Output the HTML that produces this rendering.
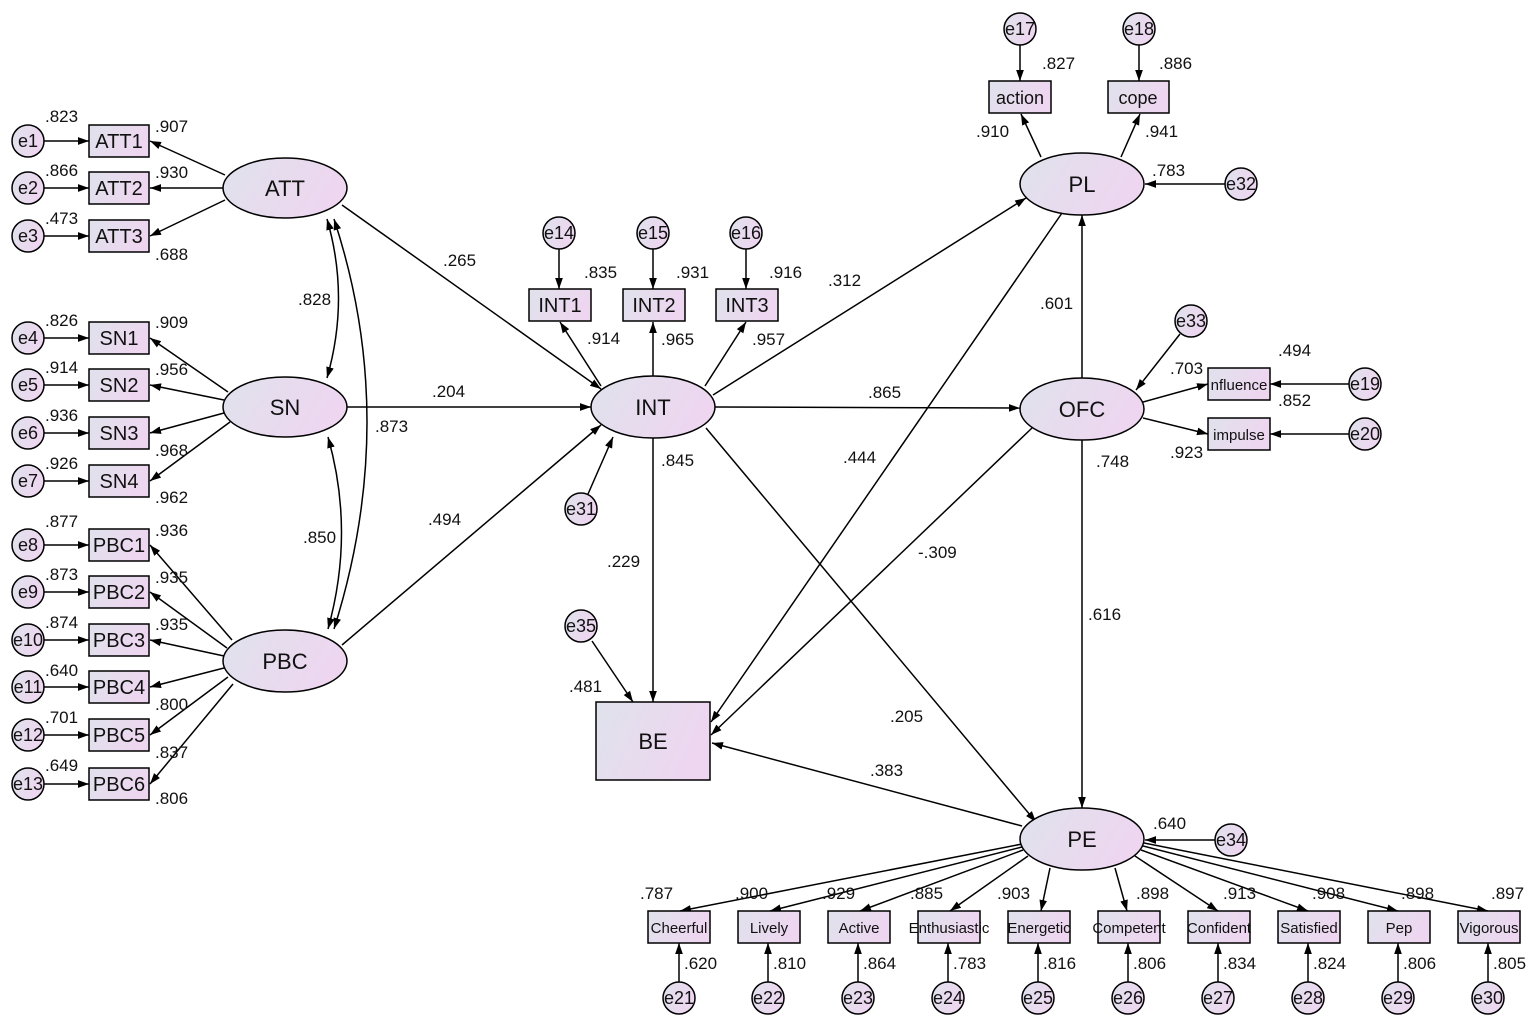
<!DOCTYPE html>
<html><head><meta charset="utf-8"><style>
html,body{margin:0;padding:0;background:#fff;}
svg{display:block;font-family:"Liberation Sans",Arial,sans-serif;}
</style></head><body>
<svg width="1535" height="1025" viewBox="0 0 1535 1025" xmlns="http://www.w3.org/2000/svg">
<defs>
<linearGradient id="g" x1="0" y1="0" x2="1" y2="0.3"><stop offset="0" stop-color="#dfe2ec"/><stop offset="1" stop-color="#eed6f0"/></linearGradient>
<marker id="a" viewBox="0 0 10 10" refX="10" refY="5" markerWidth="11" markerHeight="11" markerUnits="userSpaceOnUse" orient="auto-start-reverse"><path d="M0,1.5 L10,5 L0,8.5 z" fill="#000"/></marker>
</defs>
<g stroke="#000" stroke-width="1.5" fill="none" marker-end="url(#a)">
<!-- ATT indicators -->
<line x1="225" y1="175" x2="150" y2="141"/><line x1="223" y1="188" x2="150" y2="188"/><line x1="225" y1="200" x2="150" y2="236"/>
<line x1="44" y1="141" x2="89" y2="141"/><line x1="44" y1="188" x2="89" y2="188"/><line x1="44" y1="236" x2="89" y2="236"/>
<!-- SN -->
<line x1="228" y1="392" x2="150" y2="338"/><line x1="224" y1="400" x2="150" y2="385"/><line x1="224" y1="413" x2="150" y2="433"/><line x1="230" y1="422" x2="150" y2="481"/>
<line x1="44" y1="338" x2="89" y2="338"/><line x1="44" y1="385" x2="89" y2="385"/><line x1="44" y1="433" x2="89" y2="433"/><line x1="44" y1="481" x2="89" y2="481"/>
<!-- PBC -->
<line x1="232" y1="640" x2="150" y2="545"/><line x1="227" y1="648" x2="150" y2="592"/><line x1="224" y1="656" x2="150" y2="640"/><line x1="224" y1="668" x2="150" y2="687"/><line x1="228" y1="677" x2="150" y2="735"/><line x1="233" y1="684" x2="150" y2="784"/>
<line x1="44" y1="545" x2="89" y2="545"/><line x1="44" y1="592" x2="89" y2="592"/><line x1="44" y1="640" x2="89" y2="640"/><line x1="44" y1="687" x2="89" y2="687"/><line x1="44" y1="735" x2="89" y2="735"/><line x1="44" y1="784" x2="89" y2="784"/>
<!-- covariances -->
<path d="M327,219 Q350,298 327,378" marker-start="url(#a)"/>
<path d="M334,219 Q400,420 334,629" marker-start="url(#a)"/>
<path d="M328,437 Q355,532 328,629" marker-start="url(#a)"/>
<!-- to INT -->
<line x1="342" y1="205" x2="601" y2="389"/><line x1="347" y1="407" x2="591" y2="407"/><line x1="342" y1="645" x2="601" y2="425"/>
<line x1="601" y1="386" x2="560" y2="322"/><line x1="653" y1="377" x2="653" y2="322"/><line x1="705" y1="386" x2="746" y2="322"/>
<line x1="559" y1="249" x2="559" y2="289"/><line x1="653" y1="249" x2="653" y2="289"/><line x1="746" y1="249" x2="746" y2="289"/>
<line x1="588" y1="494" x2="613" y2="437"/>
<!-- from INT -->
<line x1="713" y1="395" x2="1026" y2="198"/><line x1="715" y1="407" x2="1020" y2="408"/><line x1="653" y1="438" x2="653" y2="702"/><line x1="706" y1="428" x2="1036" y2="822"/>
<!-- to BE -->
<line x1="1062" y1="213" x2="711" y2="722"/><line x1="1032" y1="428" x2="711" y2="735"/><line x1="1022" y1="826" x2="712" y2="743"/>
<line x1="592" y1="641" x2="633" y2="702"/>
<!-- OFC -->
<line x1="1082" y1="378" x2="1082" y2="215"/><line x1="1082" y1="440" x2="1082" y2="808"/>
<line x1="1180" y1="334" x2="1136" y2="390"/>
<line x1="1143" y1="402" x2="1208" y2="384"/><line x1="1143" y1="418" x2="1208" y2="434"/>
<line x1="1349" y1="384" x2="1270" y2="384"/><line x1="1349" y1="434" x2="1270" y2="434"/>
<!-- PL -->
<line x1="1041" y1="157" x2="1021" y2="114"/><line x1="1121" y1="157" x2="1140" y2="114"/>
<line x1="1020" y1="45" x2="1020" y2="81"/><line x1="1139" y1="45" x2="1139" y2="81"/>
<line x1="1225" y1="184" x2="1145" y2="184"/>
<!-- PE -->
<line x1="1215" y1="840" x2="1145" y2="840"/>
<line x1="1022" y1="844" x2="680" y2="911"/><line x1="1022" y1="847" x2="770" y2="911"/><line x1="1023" y1="850" x2="860" y2="911"/><line x1="1028" y1="856" x2="950" y2="911"/><line x1="1050" y1="868" x2="1041" y2="911"/>
<line x1="1115" y1="868" x2="1127" y2="911"/><line x1="1135" y1="856" x2="1218" y2="911"/><line x1="1141" y1="850" x2="1308" y2="911"/><line x1="1143" y1="846" x2="1398" y2="911"/><line x1="1144" y1="843" x2="1488" y2="911"/>
<line x1="679" y1="983" x2="679" y2="943"/><line x1="768" y1="983" x2="768" y2="943"/><line x1="858" y1="983" x2="858" y2="943"/><line x1="948" y1="983" x2="948" y2="943"/><line x1="1038" y1="983" x2="1038" y2="943"/><line x1="1128" y1="983" x2="1128" y2="943"/><line x1="1218" y1="983" x2="1218" y2="943"/><line x1="1308" y1="983" x2="1308" y2="943"/><line x1="1398" y1="983" x2="1398" y2="943"/><line x1="1488" y1="983" x2="1488" y2="943"/>
</g>
<!-- shapes -->
<g fill="url(#g)" stroke="#000" stroke-width="1.5">
<ellipse cx="285" cy="188" rx="62" ry="30"/><ellipse cx="285" cy="407" rx="62" ry="30"/><ellipse cx="285" cy="661" rx="62" ry="31"/>
<ellipse cx="653" cy="407" rx="62" ry="31"/><ellipse cx="1082" cy="184" rx="62" ry="31"/><ellipse cx="1082" cy="409" rx="62" ry="31"/><ellipse cx="1082" cy="839" rx="62" ry="31"/>
<rect x="596" y="702" width="114" height="78"/>
<rect x="89" y="125" width="60" height="32"/><rect x="89" y="172" width="60" height="32"/><rect x="89" y="220" width="60" height="32"/>
<rect x="89" y="322" width="60" height="32"/><rect x="89" y="369" width="60" height="32"/><rect x="89" y="417" width="60" height="32"/><rect x="89" y="465" width="60" height="32"/>
<rect x="89" y="529" width="60" height="32"/><rect x="89" y="576" width="60" height="32"/><rect x="89" y="624" width="60" height="32"/><rect x="89" y="671" width="60" height="32"/><rect x="89" y="719" width="60" height="32"/><rect x="89" y="768" width="60" height="32"/>
<rect x="529" y="289" width="62" height="32"/><rect x="623" y="289" width="62" height="32"/><rect x="716" y="289" width="62" height="32"/>
<rect x="989" y="81" width="62" height="32"/><rect x="1108" y="81" width="61" height="32"/>
<rect x="1208" y="368" width="62" height="32"/><rect x="1208" y="418" width="62" height="32"/>
<rect x="648" y="911" width="62" height="32"/><rect x="738" y="911" width="62" height="32"/><rect x="828" y="911" width="62" height="32"/><rect x="918" y="911" width="62" height="32"/><rect x="1008" y="911" width="62" height="32"/><rect x="1098" y="911" width="62" height="32"/><rect x="1188" y="911" width="62" height="32"/><rect x="1278" y="911" width="62" height="32"/><rect x="1368" y="911" width="62" height="32"/><rect x="1458" y="911" width="62" height="32"/>
<g>
<circle cx="28" cy="141" r="16"/><circle cx="28" cy="188" r="16"/><circle cx="28" cy="236" r="16"/>
<circle cx="28" cy="338" r="16"/><circle cx="28" cy="385" r="16"/><circle cx="28" cy="433" r="16"/><circle cx="28" cy="481" r="16"/>
<circle cx="28" cy="545" r="16"/><circle cx="28" cy="592" r="16"/><circle cx="28" cy="640" r="16"/><circle cx="28" cy="687" r="16"/><circle cx="28" cy="735" r="16"/><circle cx="28" cy="784" r="16"/>
<circle cx="559" cy="233" r="16"/><circle cx="653" cy="233" r="16"/><circle cx="746" cy="233" r="16"/>
<circle cx="581" cy="509" r="16"/><circle cx="581" cy="626" r="16"/>
<circle cx="1020" cy="29" r="16"/><circle cx="1139" cy="29" r="16"/><circle cx="1241" cy="184" r="16"/>
<circle cx="1191" cy="321" r="16"/><circle cx="1365" cy="384" r="16"/><circle cx="1365" cy="434" r="16"/><circle cx="1231" cy="840" r="16"/>
<circle cx="679" cy="998" r="16"/><circle cx="768" cy="998" r="16"/><circle cx="858" cy="998" r="16"/><circle cx="948" cy="998" r="16"/><circle cx="1038" cy="998" r="16"/><circle cx="1128" cy="998" r="16"/><circle cx="1218" cy="998" r="16"/><circle cx="1308" cy="998" r="16"/><circle cx="1398" cy="998" r="16"/><circle cx="1488" cy="998" r="16"/>
</g></g>
<!-- labels -->
<g fill="#111" text-anchor="middle" font-size="22">
<text x="285" y="196">ATT</text><text x="285" y="415">SN</text><text x="285" y="669">PBC</text><text x="653" y="415">INT</text>
<text x="1082" y="192">PL</text><text x="1082" y="417">OFC</text><text x="1082" y="847">PE</text><text x="653" y="749">BE</text>
</g>
<g fill="#111" text-anchor="middle" font-size="20">
<text x="119" y="148">ATT1</text><text x="119" y="195">ATT2</text><text x="119" y="243">ATT3</text>
<text x="119" y="345">SN1</text><text x="119" y="392">SN2</text><text x="119" y="440">SN3</text><text x="119" y="488">SN4</text>
<text x="119" y="552">PBC1</text><text x="119" y="599">PBC2</text><text x="119" y="647">PBC3</text><text x="119" y="694">PBC4</text><text x="119" y="742">PBC5</text><text x="119" y="791">PBC6</text>
<text x="560" y="312">INT1</text><text x="654" y="312">INT2</text><text x="747" y="312">INT3</text>
</g>
<g fill="#111" text-anchor="middle" font-size="18">
<text x="1020" y="104">action</text><text x="1138" y="104">cope</text>
</g>
<g fill="#111" text-anchor="middle" font-size="15">
<text x="1239" y="390">nfluence</text><text x="1239" y="440">impulse</text>
<text x="679" y="933">Cheerful</text><text x="769" y="933">Lively</text><text x="859" y="933">Active</text><text x="949" y="933">Enthusiastic</text><text x="1039" y="933">Energetic</text><text x="1129" y="933">Competent</text><text x="1219" y="933">Confident</text><text x="1309" y="933">Satisfied</text><text x="1399" y="933">Pep</text><text x="1489" y="933">Vigorous</text>
</g>
<g fill="#111" text-anchor="middle" font-size="18">
<text x="28" y="147">e1</text><text x="28" y="194">e2</text><text x="28" y="242">e3</text>
<text x="28" y="344">e4</text><text x="28" y="391">e5</text><text x="28" y="439">e6</text><text x="28" y="487">e7</text>
<text x="28" y="551">e8</text><text x="28" y="598">e9</text><text x="28" y="646">e10</text><text x="28" y="693">e11</text><text x="28" y="741">e12</text><text x="28" y="790">e13</text>
<text x="559" y="239">e14</text><text x="653" y="239">e15</text><text x="746" y="239">e16</text>
<text x="581" y="515">e31</text><text x="581" y="632">e35</text>
<text x="1020" y="35">e17</text><text x="1139" y="35">e18</text><text x="1241" y="190">e32</text>
<text x="1191" y="327">e33</text><text x="1365" y="390">e19</text><text x="1365" y="440">e20</text><text x="1231" y="846">e34</text>
<text x="679" y="1004">e21</text><text x="768" y="1004">e22</text><text x="858" y="1004">e23</text><text x="948" y="1004">e24</text><text x="1038" y="1004">e25</text><text x="1128" y="1004">e26</text><text x="1218" y="1004">e27</text><text x="1308" y="1004">e28</text><text x="1398" y="1004">e29</text><text x="1488" y="1004">e30</text>
</g>
<g fill="#111" font-size="17">
<text x="45" y="122">.823</text><text x="155" y="132">.907</text>
<text x="45" y="176">.866</text><text x="155" y="178">.930</text>
<text x="45" y="224">.473</text><text x="155" y="260">.688</text>
<text x="298" y="305">.828</text><text x="375" y="432">.873</text><text x="303" y="543">.850</text>
<text x="45" y="326">.826</text><text x="155" y="328">.909</text>
<text x="45" y="373">.914</text><text x="155" y="375">.956</text>
<text x="45" y="421">.936</text><text x="155" y="456">.968</text>
<text x="45" y="469">.926</text><text x="155" y="503">.962</text>
<text x="45" y="527">.877</text><text x="155" y="536">.936</text>
<text x="45" y="580">.873</text><text x="155" y="583">.935</text>
<text x="45" y="628">.874</text><text x="155" y="630">.935</text>
<text x="45" y="676">.640</text><text x="155" y="710">.800</text>
<text x="45" y="723">.701</text><text x="155" y="758">.837</text>
<text x="45" y="771">.649</text><text x="155" y="804">.806</text>
<text x="443" y="266">.265</text><text x="432" y="397">.204</text><text x="428" y="525">.494</text>
<text x="584" y="278">.835</text><text x="676" y="278">.931</text><text x="769" y="278">.916</text>
<text x="587" y="344">.914</text><text x="661" y="345">.965</text><text x="752" y="345">.957</text>
<text x="661" y="466">.845</text><text x="607" y="567">.229</text><text x="569" y="692">.481</text>
<text x="828" y="286">.312</text><text x="868" y="398">.865</text><text x="843" y="463">.444</text><text x="918" y="558">-.309</text>
<text x="890" y="722">.205</text><text x="870" y="776">.383</text>
<text x="1040" y="309">.601</text><text x="1096" y="467">.748</text><text x="1088" y="620">.616</text>
<text x="1042" y="69">.827</text><text x="1159" y="69">.886</text><text x="976" y="137">.910</text><text x="1145" y="137">.941</text><text x="1152" y="176">.783</text>
<text x="1278" y="356">.494</text><text x="1170" y="374">.703</text><text x="1278" y="406">.852</text><text x="1170" y="458">.923</text>
<text x="1153" y="829">.640</text>
<text x="640" y="899">.787</text><text x="735" y="899">.900</text><text x="822" y="899">.929</text><text x="910" y="899">.885</text><text x="997" y="899">.903</text><text x="1136" y="899">.898</text><text x="1223" y="899">.913</text><text x="1312" y="899">.908</text><text x="1401" y="899">.898</text><text x="1491" y="899">.897</text>
<text x="684" y="969">.620</text><text x="773" y="969">.810</text><text x="863" y="969">.864</text><text x="953" y="969">.783</text><text x="1043" y="969">.816</text><text x="1133" y="969">.806</text><text x="1223" y="969">.834</text><text x="1313" y="969">.824</text><text x="1403" y="969">.806</text><text x="1493" y="969">.805</text>
</g>
</svg>
</body></html>
